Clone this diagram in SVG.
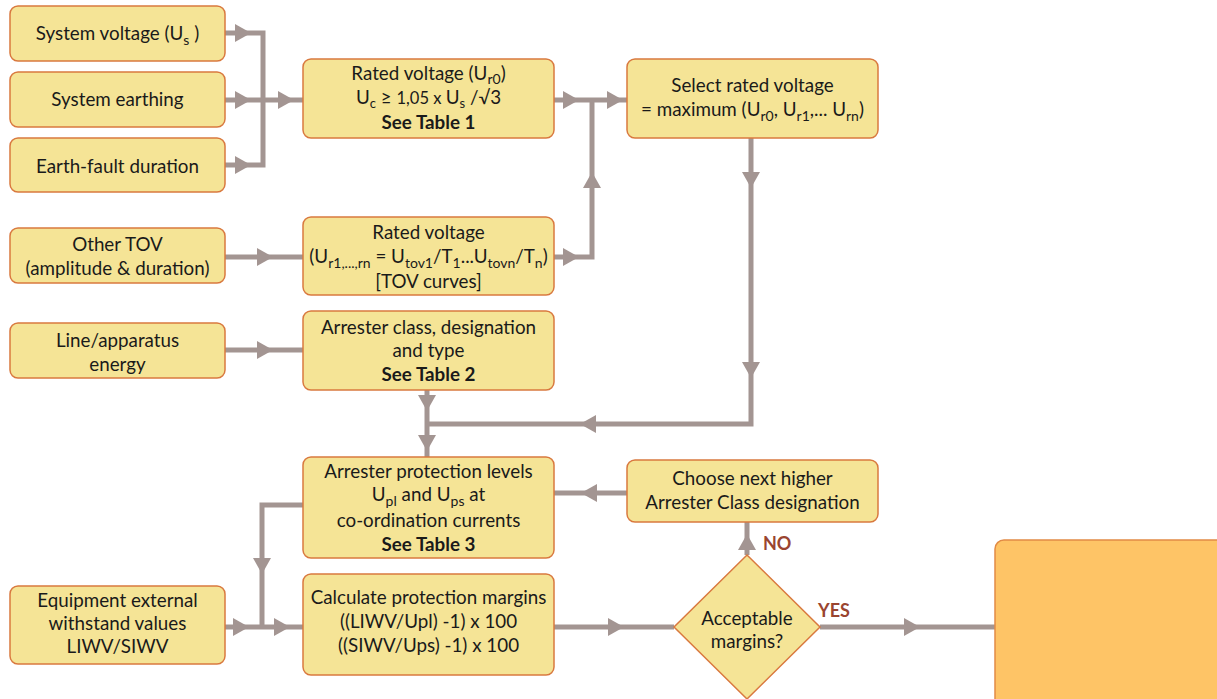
<svg xmlns="http://www.w3.org/2000/svg" xmlns:xlink="http://www.w3.org/1999/xlink" width="1217" height="699" viewBox="0 0 1217 699">
<style>
.box{fill:#f5e496;stroke:#d9793f;stroke-width:1.5}
.fin{fill:#fec466;stroke:#e28b45;stroke-width:1.5}
.t{font-family:Lato,"Open Sans","Liberation Sans",sans-serif;font-size:18.8px;fill:#1a1a1a;text-anchor:middle}
.b{font-weight:bold}
.s{font-size:14px}
.lbl{font-family:Lato,"Liberation Sans",sans-serif;font-size:18px;font-weight:bold;fill:#9a4530}
.ln{fill:none;stroke:#a39592;stroke-width:5}
.ah{fill:#a39592}
</style>
<defs>
<path id="ah" d="M0,0 L-16,-9 L-16,9 Z"/>
</defs>
<rect width="1217" height="699" fill="#ffffff"/>
<g id="connectors">
<path class="ln" d="M225,33 H263 V165 H225"/>
<path class="ln" d="M225,100 H303"/>
<path class="ln" d="M554,100 H627"/>
<path class="ln" d="M554,257 H592 V100"/>
<path class="ln" d="M751,138 V424 H427"/>
<path class="ln" d="M427,390 V457"/>
<path class="ln" d="M225,257 H303"/>
<path class="ln" d="M225,350 H303"/>
<path class="ln" d="M627,493 H554"/>
<path class="ln" d="M303,505 H262 V627"/>
<path class="ln" d="M225,627 H303"/>
<path class="ln" d="M554,627 H674"/>
<path class="ln" d="M820,627 H995"/>
<path class="ln" d="M747,555 V522"/>
<use href="#ah" class="ah" transform="translate(251,33)"/>
<use href="#ah" class="ah" transform="translate(251,100)"/>
<use href="#ah" class="ah" transform="translate(251,165)"/>
<use href="#ah" class="ah" transform="translate(294,100)"/>
<use href="#ah" class="ah" transform="translate(579,100)"/>
<use href="#ah" class="ah" transform="translate(623,100)"/>
<use href="#ah" class="ah" transform="translate(579,257)"/>
<use href="#ah" class="ah" transform="translate(592,172) rotate(-90)"/>
<use href="#ah" class="ah" transform="translate(751,188) rotate(90)"/>
<use href="#ah" class="ah" transform="translate(751,378) rotate(90)"/>
<use href="#ah" class="ah" transform="translate(580,424) rotate(180)"/>
<use href="#ah" class="ah" transform="translate(427,411) rotate(90)"/>
<use href="#ah" class="ah" transform="translate(427,451) rotate(90)"/>
<use href="#ah" class="ah" transform="translate(273,257)"/>
<use href="#ah" class="ah" transform="translate(273,350)"/>
<use href="#ah" class="ah" transform="translate(581,493) rotate(180)"/>
<use href="#ah" class="ah" transform="translate(262,574) rotate(90)"/>
<use href="#ah" class="ah" transform="translate(249,627)"/>
<use href="#ah" class="ah" transform="translate(290,627)"/>
<use href="#ah" class="ah" transform="translate(624,627)"/>
<use href="#ah" class="ah" transform="translate(920,627)"/>
<use href="#ah" class="ah" transform="translate(747,534) rotate(-90)"/>
<text class="lbl" x="763" y="550">NO</text>
<text class="lbl" x="818" y="617">YES</text>
</g>
<g id="n-system-voltage">
<rect class="box" x="10" y="6" width="215" height="55" rx="8"/>
<text class="t" x="117.5" y="40">System voltage (U<tspan class="s" dy="4.5">s</tspan><tspan dy="-4.5">  )</tspan></text>
</g>
<g id="n-system-earthing">
<rect class="box" x="10" y="72" width="215" height="55" rx="8"/>
<text class="t" x="117.5" y="106">System earthing</text>
</g>
<g id="n-earth-fault">
<rect class="box" x="10" y="138" width="215" height="54" rx="8"/>
<text class="t" x="117.5" y="173">Earth-fault duration</text>
</g>
<g id="n-other-tov">
<rect class="box" x="10" y="228" width="215" height="55" rx="8"/>
<text class="t" x="117.5" y="251">Other TOV</text>
<text class="t" x="117.5" y="275">(amplitude &amp; duration)</text>
</g>
<g id="n-line-energy">
<rect class="box" x="10" y="323" width="215" height="55" rx="8"/>
<text class="t" x="117.5" y="347">Line/apparatus</text>
<text class="t" x="117.5" y="371">energy</text>
</g>
<g id="n-equipment">
<rect class="box" x="10" y="586" width="215" height="78" rx="8"/>
<text class="t" x="117.5" y="607">Equipment external</text>
<text class="t" x="117.5" y="630">withstand values</text>
<text class="t" x="117.5" y="653">LIWV/SIWV</text>
</g>
<g id="n-rated-ur0">
<rect class="box" x="303" y="59" width="251" height="79" rx="8"/>
<text class="t" x="428.5" y="80">Rated voltage (U<tspan class="s" dy="4">r0</tspan><tspan dy="-4">)</tspan></text>
<text class="t" x="428.5" y="104">U<tspan font-size="13" dy="4">c</tspan><tspan dy="-4"> ≥ </tspan><tspan font-size="16.5">1,05 x </tspan>U<tspan font-size="13" dy="4">s</tspan><tspan dy="-4"> /√3</tspan></text>
<text class="t b" x="428.5" y="129">See Table 1</text>
</g>
<g id="n-rated-tov">
<rect class="box" x="303" y="217" width="251" height="78" rx="8"/>
<text class="t" x="428.5" y="239">Rated voltage</text>
<text class="t" x="428.5" y="263">(U<tspan class="s" dy="4.5">r1,...,rn</tspan><tspan dy="-4.5"> = U</tspan><tspan class="s" dy="4.5">tov1</tspan><tspan dy="-4.5">/T</tspan><tspan class="s" dy="4.5">1</tspan><tspan dy="-4.5">...U</tspan><tspan class="s" dy="4.5">tovn</tspan><tspan dy="-4.5">/T</tspan><tspan class="s" dy="4.5">n</tspan><tspan dy="-4.5">)</tspan></text>
<text class="t" x="428.5" y="288">[TOV curves]</text>
</g>
<g id="n-select">
<rect class="box" x="627" y="59" width="251" height="79" rx="8"/>
<text class="t" x="752.5" y="92">Select rated voltage</text>
<text class="t" x="752.5" y="116">= maximum (U<tspan class="s" dy="4.5">r0</tspan><tspan dy="-4.5">, U</tspan><tspan class="s" dy="4.5">r1</tspan><tspan dy="-4.5">,... U</tspan><tspan class="s" dy="4.5">rn</tspan><tspan dy="-4.5">)</tspan></text>
</g>
<g id="n-arrester-class">
<rect class="box" x="303" y="311" width="251" height="79" rx="8"/>
<text class="t" x="428.5" y="334">Arrester class, designation</text>
<text class="t" x="428.5" y="357">and type</text>
<text class="t b" x="428.5" y="381">See Table 2</text>
</g>
<g id="n-protection-levels">
<rect class="box" x="303" y="457" width="251" height="101" rx="8"/>
<text class="t" x="428.5" y="478">Arrester protection levels</text>
<text class="t" x="428.5" y="501">U<tspan class="s" dy="4.5">pl</tspan><tspan dy="-4.5"> and U</tspan><tspan class="s" dy="4.5">ps</tspan><tspan dy="-4.5"> at</tspan></text>
<text class="t" x="428.5" y="527">co-ordination currents</text>
<text class="t b" x="428.5" y="551">See Table 3</text>
</g>
<g id="n-calculate">
<rect class="box" x="303" y="574" width="251" height="101" rx="8"/>
<text class="t" x="428.5" y="604">Calculate protection margins</text>
<text class="t" x="428.5" y="628">((LIWV/Upl) -1) x 100</text>
<text class="t" x="428.5" y="652">((SIWV/Ups) -1) x 100</text>
</g>
<g id="n-choose">
<rect class="box" x="627" y="460" width="251" height="62" rx="8"/>
<text class="t" x="752.5" y="485">Choose next higher</text>
<text class="t" x="752.5" y="509">Arrester Class designation</text>
</g>
<g id="n-acceptable">
<polygon class="box" points="747,555 820,627 747,699 674,627"/>
<text class="t" x="747" y="625">Acceptable</text>
<text class="t" x="747" y="648">margins?</text>
</g>
<g id="n-result">
<rect class="fin" x="995" y="540" width="230" height="170" rx="9"/>
</g>
</svg>
